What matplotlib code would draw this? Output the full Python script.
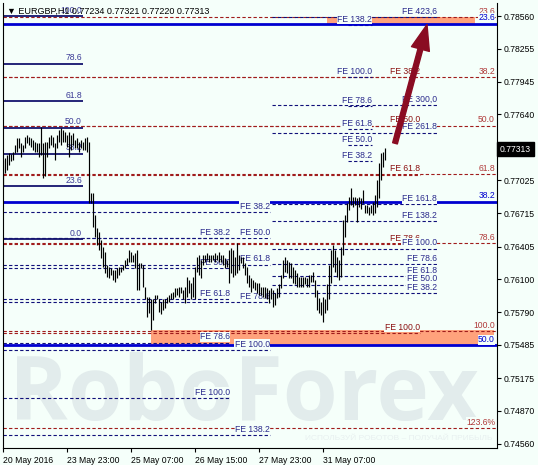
import matplotlib.pyplot as plt
from matplotlib.patches import Rectangle
from matplotlib.transforms import blended_transform_factory

# ---- price bars (H1, EURGBP) ----
highs = [
    0.7721, 0.7723, 0.7726, 0.7728, 0.7727, 0.7729, 0.7735, 0.7742, 0.7742, 0.7737,
    0.7735, 0.7743, 0.7745, 0.7743, 0.7742, 0.7740, 0.7738, 0.7737, 0.7737, 0.7752,
    0.7737, 0.7738, 0.7738, 0.7743, 0.7745, 0.7743, 0.7737, 0.7745, 0.7749, 0.7751,
    0.7749, 0.7748, 0.7745, 0.7748, 0.7745, 0.7747, 0.7740, 0.7742, 0.7738, 0.7740,
    0.7738, 0.7742, 0.7743, 0.7738, 0.7691, 0.7691, 0.7670, 0.7658, 0.7654, 0.7647,
    0.7640, 0.7635, 0.7623, 0.7621, 0.7620, 0.7619, 0.7619, 0.7620, 0.7621, 0.7621,
    0.7623, 0.7628, 0.7630, 0.7637, 0.7635, 0.7633, 0.7634, 0.7637, 0.7625, 0.7625,
    0.7623, 0.7603, 0.7593, 0.7593, 0.7591, 0.7591, 0.7595, 0.7595, 0.7591, 0.7589,
    0.7591, 0.7591, 0.7593, 0.7595, 0.7597, 0.7598, 0.7602, 0.7602, 0.7603, 0.7603,
    0.7600, 0.7603, 0.7612, 0.7609, 0.7606, 0.7612, 0.7621, 0.7631, 0.7633, 0.7628,
    0.7633, 0.7633, 0.7634, 0.7633, 0.7633, 0.7633, 0.7634, 0.7633, 0.7635, 0.7633,
    0.7633, 0.7630, 0.7628, 0.7637, 0.7639, 0.7637, 0.7631, 0.7644, 0.7633, 0.7631,
    0.7631, 0.7625, 0.7621, 0.7614, 0.7611, 0.7609, 0.7607, 0.7606, 0.7606, 0.7603,
    0.7603, 0.7603, 0.7602, 0.7600, 0.7602, 0.7600, 0.7597, 0.7602, 0.7605, 0.7614,
    0.7628, 0.7631, 0.7628, 0.7626, 0.7625, 0.7621, 0.7619, 0.7616, 0.7612, 0.7612,
    0.7612, 0.7612, 0.7611, 0.7614, 0.7614, 0.7617, 0.7609, 0.7600, 0.7592, 0.7589,
    0.7593, 0.7591, 0.7605, 0.7623, 0.7637, 0.7642, 0.7637, 0.7631, 0.7628, 0.7640,
    0.7665, 0.7670, 0.7681, 0.7687, 0.7695, 0.7687, 0.7687, 0.7686, 0.7687, 0.7686,
    0.7693, 0.7679, 0.7679, 0.7677, 0.7679, 0.7682, 0.7689, 0.7703, 0.7719, 0.7728,
    0.7729, 0.7733]
lows = [
    0.7696, 0.7709, 0.7712, 0.7717, 0.7720, 0.7721, 0.7728, 0.7729, 0.7733, 0.7724,
    0.7729, 0.7733, 0.7737, 0.7735, 0.7734, 0.7731, 0.7729, 0.7729, 0.7724, 0.7726,
    0.7705, 0.7706, 0.7724, 0.7733, 0.7735, 0.7734, 0.7721, 0.7733, 0.7738, 0.7735,
    0.7738, 0.7738, 0.7734, 0.7724, 0.7731, 0.7735, 0.7733, 0.7733, 0.7729, 0.7733,
    0.7731, 0.7731, 0.7729, 0.7681, 0.7681, 0.7659, 0.7649, 0.7642, 0.7637, 0.7630,
    0.7621, 0.7616, 0.7612, 0.7611, 0.7614, 0.7609, 0.7607, 0.7611, 0.7614, 0.7617,
    0.7619, 0.7620, 0.7623, 0.7626, 0.7626, 0.7626, 0.7620, 0.7600, 0.7600, 0.7620,
    0.7603, 0.7591, 0.7575, 0.7578, 0.7562, 0.7572, 0.7588, 0.7591, 0.7579, 0.7577,
    0.7581, 0.7583, 0.7588, 0.7589, 0.7591, 0.7591, 0.7593, 0.7595, 0.7593, 0.7597,
    0.7591, 0.7588, 0.7593, 0.7597, 0.7591, 0.7593, 0.7591, 0.7617, 0.7614, 0.7611,
    0.7623, 0.7626, 0.7628, 0.7626, 0.7626, 0.7628, 0.7626, 0.7628, 0.7626, 0.7626,
    0.7623, 0.7620, 0.7621, 0.7606, 0.7616, 0.7612, 0.7614, 0.7616, 0.7619, 0.7625,
    0.7620, 0.7614, 0.7606, 0.7603, 0.7598, 0.7602, 0.7600, 0.7597, 0.7595, 0.7595,
    0.7593, 0.7592, 0.7591, 0.7588, 0.7591, 0.7584, 0.7586, 0.7592, 0.7593, 0.7602,
    0.7611, 0.7617, 0.7616, 0.7611, 0.7611, 0.7606, 0.7605, 0.7603, 0.7603, 0.7603,
    0.7603, 0.7605, 0.7603, 0.7603, 0.7607, 0.7607, 0.7593, 0.7581, 0.7578, 0.7576,
    0.7570, 0.7578, 0.7581, 0.7591, 0.7606, 0.7621, 0.7617, 0.7612, 0.7609, 0.7612,
    0.7633, 0.7649, 0.7663, 0.7675, 0.7679, 0.7677, 0.7679, 0.7663, 0.7677, 0.7676,
    0.7681, 0.7672, 0.7672, 0.7670, 0.7672, 0.7670, 0.7672, 0.7677, 0.7686, 0.7703,
    0.7715, 0.7721]
last_price = 0.77313
title = "\u25bc EURGBP,H1 0.77234 0.77321 0.77220 0.77313"

x_ticks = [0, 32, 64, 96, 128, 160]
x_labels = ["20 May 2016", "23 May 23:00", "25 May 07:00", "26 May 15:00",
            "27 May 23:00", "31 May 07:00"]
y_ticks = [0.78560, 0.78255, 0.77945, 0.77640, 0.77025, 0.76715, 0.76405,
           0.76100, 0.75790, 0.75485, 0.75175, 0.74870, 0.74560]

# ---- fibonacci objects: (price at 0%, price at 100%), levels, labels ----
# retracement on the left (solid navy)
ret_left = (0.76475, 0.78560)
ret_left_lv = [0, 23.6, 38.2, 50, 61.8, 78.6, 100]
ret_left_lb = ["0.0", "23.6", "38.2", "50.0", "61.8", "78.6", "100.0"]
# big retracement (thick blue)
ret_blue = (0.81178, 0.69781)
ret_blue_lv = [23.6, 38.2, 50]
ret_blue_lb = ["23.6", "38.2", "50.0"]
# big retracement (dashed red)
ret_red = (0.79458, 0.75615)
ret_red_lv = [23.6, 38.2, 50, 61.8, 78.6, 100, 123.6]
ret_red_lb = ["23.6", "38.2", "50.0", "61.8", "78.6", "100.0", "123.6%"]
# expansion, red
fe_red = (0.79470, 0.75596)
fe_red_lv = [38.2, 50, 61.8, 78.6, 100]
# expansions, navy
fe_a1 = (0.77410, 0.74989)
fe_a1_lv = [38.2, 50, 61.8, 78.6, 100]
fe_a2 = (0.77523, 0.75437)
fe_a2_lv = [38.2, 50, 61.8, 78.6, 100, 138.2]
fe_b = (0.75714, 0.76384)
fe_b_lv = [38.2, 50, 61.8, 78.6, 100, 138.2, 161.8, 261.8, 300, 423.6]
fe_b_lb = ["FE 38.2", "FE 50.0", "FE 61.8", "FE 78.6", "FE 100.0", "FE 138.2",
           "FE 161.8", "FE 261.8", "FE 300,0", "FE 423,6"]
fe_c = (0.76718, 0.77990)
fe_c_lv = [38.2, 50, 61.8, 78.6, 100, 138.2]

# target zones and arrow
zone_top = (162, 236, 0.78488, 0.78551)
zone_bottom = (74, 245.5, 0.75480, 0.75620)
arrow_from = (196, 0.7737)
arrow_to = (212, 0.7848)

bg = "#f5fffa"
navy = "#10107a"
navy_txt = "#2a2a8c"
red = "#a01c1c"
red_txt = "#b03a3a"
fe_red_txt = "#8b1010"
blue = "#0000d0"
font = ["Liberation Sans", "DejaVu Sans"]
fs = 6.2
dash = (0, (3, 2))

plt.rcParams["font.family"] = font
fig = plt.figure(figsize=(5.38, 4.65), dpi=100, facecolor=bg)
ax = fig.add_axes([3 / 538, 17 / 465, 494 / 538, 445 / 465], facecolor=bg)
ax.set_xlim(0, 247)
ax.set_ylim(0.74521, 0.78682)

# watermark
ax.text(0.012, 0.063, "RoboForex", transform=ax.transAxes, fontsize=64,
        family=["Open Sans", "DejaVu Sans"], fontweight="bold", color="#e2ecec",
        va="baseline", ha="left", zorder=0.5)
ax.text(0.99, 0.022, "ИСПОЛЬЗУЙ РОБОТОВ – ПОЛУЧАЙ ПРИБЫЛЬ", transform=ax.transAxes,
        fontsize=6, color="#e8f0f0", ha="right", va="center", zorder=0.5)

for x0, x1, y0, y1 in [zone_top, zone_bottom]:
    ax.add_patch(Rectangle((x0, y0), x1 - x0, y1 - y0, fc="#ffa27c", ec="none", zorder=1))


def level_price(anchor, lv):
    return anchor[0] + (anchor[1] - anchor[0]) * lv / 100


def draw_fib(anchor, levels, labels, x0, x1, lx, color, tcolor, lw, ls, box):
    for lv, lb in zip(levels, labels):
        p = level_price(anchor, lv)
        ax.hlines(p, x0, x1, colors=color, linewidth=lw, linestyles=ls, zorder=2)
        kw = dict(boxstyle="square,pad=0.05", fc=bg, ec="none") if box else None
        ax.annotate(lb, (lx, p), xytext=(0, 1), textcoords="offset points",
                    ha="right", va="bottom", fontsize=fs, color=tcolor,
                    bbox=kw, zorder=3)


fe_lb = lambda lvs: ["FE %.1f" % v for v in lvs]

draw_fib(ret_red, ret_red_lv, ret_red_lb, 0, 247, 246, red, red_txt, 0.8, dash, True)
draw_fib(fe_red, fe_red_lv, fe_lb(fe_red_lv), 0, 208.5, 208.5, red, fe_red_txt, 0.8, dash, True)
draw_fib(fe_a1, fe_a1_lv, fe_lb(fe_a1_lv), 0, 113.5, 113.5, navy, navy_txt, 0.8, dash, True)
draw_fib(fe_a2, fe_a2_lv, fe_lb(fe_a2_lv), 0, 133.5, 133.5, navy, navy_txt, 0.8, dash, True)
draw_fib(fe_b, fe_b_lv, fe_b_lb, 134.5, 217, 217, navy, navy_txt, 0.8, dash, True)
draw_fib(fe_c, fe_c_lv, fe_lb(fe_c_lv), 172.5, 184.5, 184.5, navy, navy_txt, 0.8, dash, True)
draw_fib(ret_blue, ret_blue_lv, ret_blue_lb, 0, 247, 246, blue, blue, 2.0, "solid", True)
draw_fib(ret_left, ret_left_lv, ret_left_lb, 0, 40, 39.5, "#14146e", "#3a3a96", 1.3, "solid", False)

# bars
ax.vlines(range(len(highs)), lows, highs, colors="black", linewidth=0.85, zorder=4)

ax.annotate("", xy=arrow_to, xytext=arrow_from,
            arrowprops=dict(arrowstyle="simple,head_length=1.3,head_width=0.95,tail_width=0.25",
                            mutation_scale=14, fc="#8a0c22", ec="#8a0c22",
                            shrinkA=0, shrinkB=0), zorder=6)

# axes
ax.spines["top"].set_visible(False)
for s in ["left", "right", "bottom"]:
    ax.spines[s].set_color("black")
    ax.spines[s].set_linewidth(0.8)
ax.yaxis.tick_right()
ax.set_yticks(y_ticks)
ax.set_yticklabels(["%.5f" % v for v in y_ticks])
ax.set_xticks(x_ticks)
ax.set_xticklabels(x_labels, ha="left")
ax.tick_params(axis="both", labelsize=fs, colors="black", length=3, width=0.8, pad=1.5)
ax.tick_params(axis="x", pad=3)

tr = blended_transform_factory(ax.transAxes, ax.transData)
ax.annotate("%.5f" % last_price, (1, last_price), xycoords=tr, xytext=(2.2, 0),
            textcoords="offset points", ha="left", va="center", fontsize=fs,
            color="white", bbox=dict(boxstyle="square,pad=0.3", fc="black", ec="black"),
            zorder=7, annotation_clip=False)

fig.text(7 / 538, 1 - 11 / 465, title, fontsize=fs + 0.3, color="black", va="center",
         ha="left", zorder=8)

fig.savefig("out.png", dpi=100, facecolor=bg)
